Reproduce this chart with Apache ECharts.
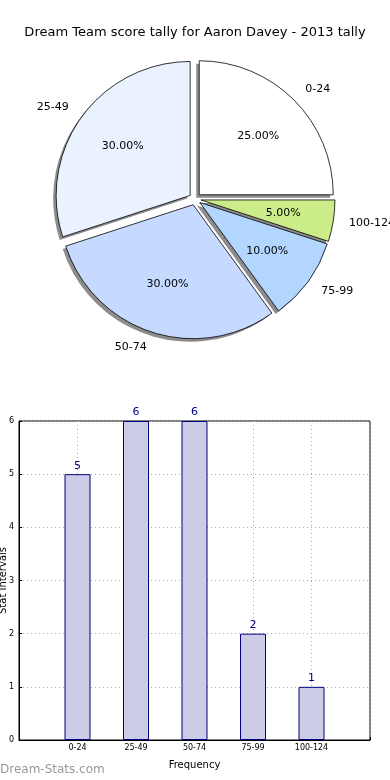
<!DOCTYPE html>
<html><head><meta charset="utf-8">
<script src="https://cdn.jsdelivr.net/npm/echarts@6/dist/echarts.min.js"></script>
<style>html,body{margin:0;padding:0;background:#fff}#c{width:390px;height:780px}</style>
</head><body><div id="c"></div>
<script>
const categories = ['0-24','25-49','50-74','75-99','100-124'];
const counts = [5, 6, 6, 2, 1];
const pieColors = ['#ffffff','#eaf1ff','#c6d9ff','#b3d6ff','#ccec8a'];
const yTicks = [0,1,2,3,4,5,6];
const titleText = 'Dream Team score tally for Aaron Davey - 2013 tally';

const total = counts.reduce((a,b)=>a+b,0);
const font = 'DejaVu Sans';
const pieData = categories.map((c,i)=>({name:c, value:counts[i], selected:true, itemStyle:{color:pieColors[i]}}));
const plainData = categories.map((c,i)=>({name:c, value:counts[i], selected:true}));
const barData = counts.map((v,i)=>[i+1, v]);
const pieCenter = [195,199];
const pieR = 134;

const chart = echarts.init(document.getElementById('c'), null, {renderer:'canvas'});
chart.setOption({
  animation:false,
  backgroundColor:'#fff',
  title:{text:titleText, left:'center', top:21, textStyle:{fontFamily:font, fontSize:13, fontWeight:'normal', color:'#000'}},
  graphic:[{type:'text', left:0, top:764, style:{text:'Dream-Stats.com', fill:'#999', font:'12px "DejaVu Sans"'}}],
  grid:{left:19, right:20, top:421, bottom:40, show:true, borderColor:'#000', borderWidth:1, containLabel:false, outerBoundsMode:'none'},
  xAxis:{type:'value', min:0, max:yTicks.length-1, interval:1,
    name:'Frequency', nameLocation:'middle', nameGap:20, nameMoveOverlap:false, nameTextStyle:{fontFamily:font, fontSize:10, color:'#000'},
    axisLine:{show:true, lineStyle:{color:'#000'}},
    axisTick:{show:true, inside:true, length:3, lineStyle:{color:'#000'}},
    axisLabel:{fontFamily:font, fontSize:8, color:'#000', margin:4, formatter:v=>categories[v-1]||''},
    splitLine:{show:true, lineStyle:{color:'#aaa', type:[1,3], width:1}}},
  yAxis:{type:'value', min:0, max:6, interval:1,
    name:'Stat Intervals', nameLocation:'middle', nameGap:11, nameRotate:90, nameMoveOverlap:false, nameTextStyle:{fontFamily:font, fontSize:10, color:'#000'},
    axisLine:{show:true, lineStyle:{color:'#000'}},
    axisTick:{show:true, inside:true, length:3, lineStyle:{color:'#000'}},
    axisLabel:{fontFamily:font, fontSize:8, color:'#000', margin:5},
    splitLine:{show:true, lineStyle:{color:'#aaa', type:[1,3], width:1}}},
  series:[
    {type:'pie', center:[pieCenter[0]-3, pieCenter[1]+3], radius:pieR, startAngle:0, clockwise:false,
     selectedMode:'multiple', selectedOffset:6, silent:true, z:1,
     label:{show:false}, labelLine:{show:false},
     itemStyle:{color:'#8c8c8c', borderWidth:0},
     select:{itemStyle:{color:'#8c8c8c', borderWidth:0}},
     emphasis:{disabled:true},
     data:plainData},
    {type:'pie', center:pieCenter, radius:pieR, startAngle:0, clockwise:false,
     selectedMode:'multiple', selectedOffset:6, avoidLabelOverlap:false, silent:true, z:2,
     label:{show:true, position:'outside', formatter:'{b}', fontFamily:font, fontSize:11, color:'#000', distanceToLabelLine:0},
     labelLine:{show:false, length:16, length2:0},
     itemStyle:{borderColor:'#000', borderWidth:0.8},
     select:{itemStyle:{borderColor:'#000', borderWidth:0.8}},
     emphasis:{disabled:true},
     data:pieData},
    {type:'pie', center:pieCenter, radius:[0,pieR*1.2], startAngle:0, clockwise:false,
     selectedMode:'multiple', selectedOffset:6, avoidLabelOverlap:false, silent:true, z:5,
     itemStyle:{color:'rgba(0,0,0,0)', borderWidth:0},
     select:{itemStyle:{color:'rgba(0,0,0,0)', borderWidth:0}},
     label:{show:true, position:'inside', fontFamily:font, fontSize:11, color:'#000',
       formatter:p=>(p.value/total*100).toFixed(2)+'%'},
     labelLine:{show:false},
     emphasis:{disabled:true},
     data:plainData},
    {type:'bar', data:barData, barWidth:26,
     itemStyle:{color:'#ccccE6', borderColor:'#000080', borderWidth:1},
     label:{show:true, position:'top', distance:3, fontFamily:font, fontSize:11, color:'#000080'},
     emphasis:{disabled:true}, silent:true}
  ]
});
</script></body></html>
